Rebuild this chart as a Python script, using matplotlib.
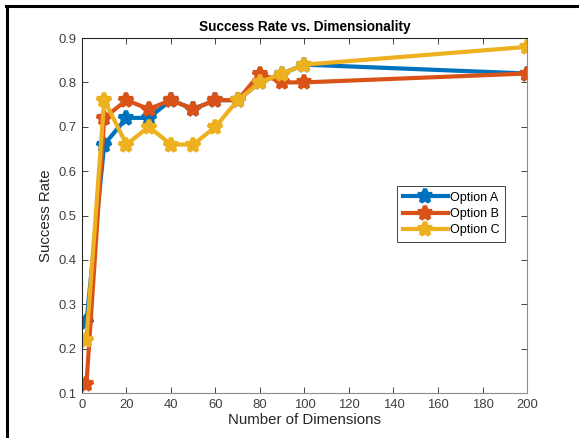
import matplotlib.pyplot as plt
from matplotlib.lines import Line2D

plt.rcParams['font.family'] = ['Liberation Sans', 'DejaVu Sans']

dims = [2, 10, 20, 30, 40, 50, 60, 70, 80, 90, 100, 200]
option_a = [0.26, 0.66, 0.72, 0.72, 0.76, 0.74, 0.76, 0.76, 0.80, 0.82, 0.84, 0.82]
option_b = [0.12, 0.72, 0.76, 0.74, 0.76, 0.74, 0.76, 0.76, 0.82, 0.80, 0.80, 0.82]
option_c = [0.22, 0.76, 0.66, 0.70, 0.66, 0.66, 0.70, 0.76, 0.80, 0.82, 0.84, 0.88]

fig = plt.figure(figsize=(5.79, 4.38), dpi=100)
ax = fig.add_axes([0.1416, 0.1027, 0.7686, 0.8105])

style = dict(linewidth=3, marker='*', markersize=10, markeredgewidth=3)
ax.plot(dims, option_a, color='#0072BD', label='Option A', **style)
ax.plot(dims, option_b, color='#D95319', label='Option B', **style)
ax.plot(dims, option_c, color='#EDB120', label='Option C', **style)

ax.set_xlim(0, 200)
ax.set_ylim(0.1, 0.9)
ax.set_xticks(range(0, 201, 20))
ax.set_yticks([0.1, 0.2, 0.3, 0.4, 0.5, 0.6, 0.7, 0.8, 0.9])
ax.set_yticklabels(['0.1', '0.2', '0.3', '0.4', '0.5', '0.6', '0.7', '0.8', '0.9'])
ax.tick_params(direction='in', top=True, right=True, length=4, width=0.6,
               labelsize=9.4, colors='#262626', labelcolor='#404040', pad=4)
for side in ['top', 'left']:
    ax.spines[side].set_color('#262626')
for side in ['bottom', 'right']:
    ax.spines[side].set_color('#8c8c8c')
for s in ax.spines.values():
    s.set_linewidth(0.8)

ax.set_title('Success Rate vs. Dimensionality', fontsize=9.8, fontweight='bold', pad=5)
ax.set_xlabel('Number of Dimensions', fontsize=10.8, color='#262626', labelpad=2)
ax.set_ylabel('Success Rate', fontsize=10.8, color='#262626', labelpad=4)

leg = ax.legend(loc='upper left', bbox_to_anchor=(0.708, 0.583), fontsize=9,
                fancybox=False, framealpha=1, edgecolor='#262626',
                handlelength=3.6, handletextpad=0.2, borderpad=0.45,
                labelspacing=0.35, borderaxespad=0)
leg.get_frame().set_linewidth(0.6)

fig.add_artist(Line2D([6 / 579, 1], [1 - 5.5 / 438, 1 - 5.5 / 438], color='black', linewidth=2.2))
fig.add_artist(Line2D([6.5 / 579, 6.5 / 579], [0, 1 - 5.5 / 438], color='black', linewidth=2.2))

fig.savefig('out.png', dpi=100)
